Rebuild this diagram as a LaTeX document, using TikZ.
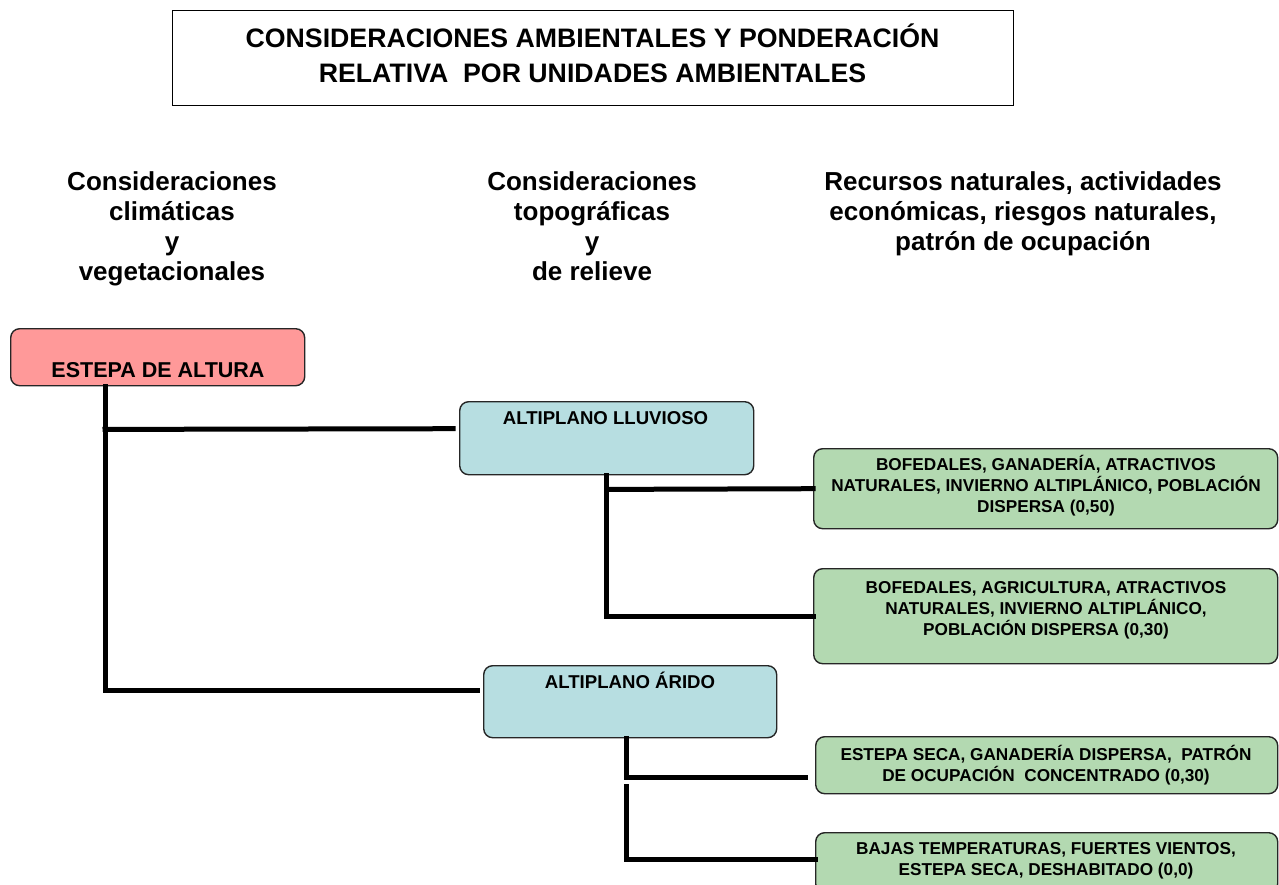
\documentclass[tikz,border=0pt]{standalone}
\usepackage{fontspec}
\setmainfont{Liberation Sans}
\definecolor{pinkbox}{HTML}{FF9999}
\definecolor{bluebox}{HTML}{B7DEE1}
\definecolor{greenbox}{HTML}{B3D9B1}
\begin{document}
\begin{tikzpicture}[x=1pt,y=-1pt,
  box/.style={draw=black!85, line width=1.4pt, rounded corners=9pt, inner sep=0pt, anchor=north west},
  conn/.style={line width=5pt, line cap=rect},
  lbl/.style={inner sep=0pt, align=center, font=\bfseries},
  head/.style={lbl, font=\fontsize{26}{30}\selectfont\bfseries},
  gtxt/.style={lbl, font=\fontsize{17.2}{21}\selectfont\bfseries},
]
\useasboundingbox (0,0) rectangle (1279,884);
% title
\node[draw, line width=1.4pt, inner sep=0pt, anchor=north west, minimum width=841pt, minimum height=95pt] (titlebox) at (172,10) {};
\node[lbl, font=\fontsize{26.7}{35}\selectfont\bfseries] (title) at (592.5,53) {CONSIDERACIONES AMBIENTALES Y PONDERACIÓN\\RELATIVA\ \ POR UNIDADES AMBIENTALES};
% headers
\node[head] (h1) at (172,229) {Consideraciones\\climáticas\\y\\vegetacionales};
\node[head] (h2) at (592,226) {Consideraciones\\topográficas\\y\\de relieve};
\node[head] (h3) at (1023,214) {Recursos naturales, actividades\\económicas, riesgos naturales,\\patrón de ocupación};
% boxes
\node[box, fill=pinkbox, minimum width=294pt, minimum height=57pt] (estepa) at (10,328) {};
\node[lbl, font=\fontsize{21.5}{25}\selectfont\bfseries] (estepaT) at (158,370) {ESTEPA DE ALTURA};
\node[box, fill=bluebox, minimum width=294pt, minimum height=73pt] (lluv) at (459,401) {};
\node[lbl, font=\fontsize{18.6}{22}\selectfont\bfseries] (lluvT) at (605.5,418) {ALTIPLANO LLUVIOSO};
\node[box, fill=bluebox, minimum width=293pt, minimum height=72pt] (arido) at (483,665) {};
\node[lbl, font=\fontsize{18.6}{22}\selectfont\bfseries] (aridoT) at (630,680) {ALTIPLANO ÁRIDO};
\node[box, fill=greenbox, minimum width=464pt, minimum height=80pt] (g1) at (813,448) {};
\node[gtxt] (g1T) at (1046,486) {BOFEDALES, GANADERÍA, ATRACTIVOS\\NATURALES, INVIERNO ALTIPLÁNICO, POBLACIÓN\\DISPERSA (0,50)};
\node[box, fill=greenbox, minimum width=464pt, minimum height=95pt] (g2) at (813,568) {};
\node[gtxt] (g2T) at (1046,610) {BOFEDALES, AGRICULTURA, ATRACTIVOS\\NATURALES, INVIERNO ALTIPLÁNICO,\\POBLACIÓN DISPERSA (0,30)};
\node[box, fill=greenbox, minimum width=462pt, minimum height=57pt] (g3) at (815,736) {};
\node[gtxt] (g3T) at (1046,765.5) {ESTEPA SECA, GANADERÍA DISPERSA,\ \ PATRÓN\\DE OCUPACIÓN\ \ CONCENTRADO (0,30)};
\node[box, fill=greenbox, minimum width=462pt, minimum height=60pt] (g4) at (815,832) {};
\node[gtxt] (g4T) at (1046,860.5) {BAJAS TEMPERATURAS, FUERTES VIENTOS,\\ESTEPA SECA, DESHABITADO (0,0)};
% connectors
\draw[conn] ([xshift=95pt]estepa.south west) |- ([xshift=-6pt,yshift=11pt]arido.west);
\draw[conn] ([xshift=95pt,yshift=-43pt]estepa.south west) -- ([xshift=-6pt,yshift=9.5pt]lluv.west);
\draw[conn] (lluv.south) |- (g2.west);
\draw[conn] ([yshift=-14pt]lluv.south) -- (g1.west);
\draw[conn] ([xshift=143pt]arido.south west) |- ([xshift=-10pt,yshift=-12.5pt]g3.west);
\draw[conn] ([xshift=143pt,yshift=-48pt]arido.south west) |- ([yshift=3pt]g4.west);
\end{tikzpicture}
\end{document}
